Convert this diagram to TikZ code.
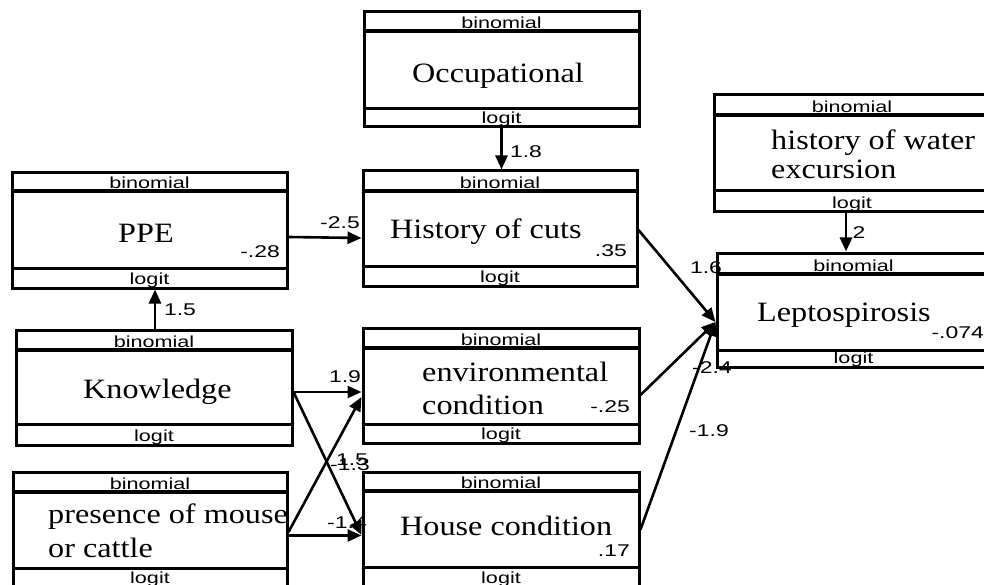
\documentclass[tikz,border=0pt]{standalone}
\usepackage{fontspec}
\newfontfamily\labf[FakeStretch=1.35]{Liberation Sans}
\newfontfamily\mainf[FakeStretch=1.15]{Liberation Serif}
\usetikzlibrary{arrows.meta,fit,calc}
\tikzset{
 x=1pt,y=1pt,
 boxframe/.style={draw, line width=3pt, inner sep=0pt},
 topsep/.style={line width=3.8pt},
 botsep/.style={line width=3pt},
 bandtxt/.style={font=\labf\fontsize{16}{18}\selectfont, inner sep=0pt, anchor=base},
 valtxt/.style={font=\labf\fontsize{17}{19}\selectfont, inner sep=0pt, anchor=base east},
 maintxt/.style={font=\mainf\fontsize{28}{33}\selectfont, inner sep=0pt, anchor=base west},
 edgelbl/.style={font=\labf\fontsize{17}{19}\selectfont, inner sep=0pt},
 conn/.style={line width=2.6pt, -{Triangle[length=14pt,width=12pt]}},
}
\newcommand\gbox[7]{%
 \node[boxframe, fit={(#2,-#3) (#4,-#5)}] (#1) {};
 \draw[topsep] (#2,-#6) -- (#4,-#6);
 \draw[botsep] (#2,-#7) -- (#4,-#7);
 \node[bandtxt] (#1-top) at ({(#2+#4)/2},{-#6+2.5}) {binomial};
 \node[bandtxt] (#1-bot) at ({(#2+#4)/2},{-#5+3.5}) {logit};
}
\begin{document}
\begin{tikzpicture}
\useasboundingbox (0,0) rectangle (984,-585);
\fill[white] (0,0) rectangle (984,-585);
\clip (0,0) rectangle (984,-585);

\gbox{occ}{364}{12}{639}{127}{31}{109}
\gbox{hist}{363}{171}{637}{286}{191}{266}
\gbox{ppe}{12}{173}{287}{288}{191}{268}
\gbox{know}{16}{330}{292}{445}{350}{424}
\gbox{pres}{13}{472}{287}{587}{492}{568}
\gbox{env}{363}{328}{639}{443}{348}{424}
\gbox{house}{363}{472}{639}{587}{491}{567}
\gbox{water}{714}{95}{990}{212}{115}{191}
\gbox{lep}{717}{253}{990}{367}{274}{350}

\node[maintxt] (occ-t) at (412,-83) {Occupational};
\node[maintxt] (hist-t) at (390,-238) {History of cuts};
\node[maintxt] (ppe-t) at (118,-242) {PPE};
\node[maintxt] (know-t) at (83,-398) {Knowledge};
\node[maintxt] (pres-t1) at (48,-523) {presence of mouse};
\node[maintxt] (pres-t2) at (48,-557) {or cattle};
\node[maintxt] (env-t1) at (422,-381) {environmental};
\node[maintxt] (env-t2) at (422,-414) {condition};
\node[maintxt] (house-t) at (400,-535) {House condition};
\node[maintxt] (water-t1) at (771,-150) {history of water};
\node[maintxt] (water-t2) at (771,-179) {excursion};
\node[maintxt] (lep-t) at (757,-321) {Leptospirosis};

\node[valtxt] (ppe-v) at (280,-258) {-.28};
\node[valtxt] (hist-v) at (627,-256) {.35};
\node[valtxt] (env-v) at (630,-412) {-.25};
\node[valtxt] (house-v) at (630,-556) {.17};
\node[valtxt] (lep-v) at (984,-338) {-.074};

\coordinate (lepin) at ([yshift=-12pt]lep.west);

\draw[conn] (occ.south) -- (occ.south |- hist.north);
\draw[conn] ([yshift=-6.5pt]ppe.east) -- ([yshift=-9.5pt]hist.west);
\draw[conn] ([xshift=1pt]know.north) -- ([xshift=1pt]know.north |- ppe.south);
\draw[conn] ([yshift=-1.5pt]hist.east) -- (lepin);
\draw[conn] ([xshift=-6pt]water.south) -- ([xshift=-6pt]water.south |- lep.north);
\draw[conn] ([yshift=-9.5pt]env.east) -- (lepin);
\draw[conn] (house.east) -- (lepin);
\draw[conn] ([yshift=-4.5pt]know.east) -- ([yshift=-6.5pt]env.west);
\draw[conn] ([yshift=-4.5pt]know.east) -- ([yshift=-5.5pt]house.west);
\draw[conn] ([yshift=-2.5pt]pres.east) -- ([yshift=-11.5pt]env.west);
\draw[conn] ([yshift=-6pt]pres.east) -- ([yshift=-6pt]house.west);

\node[edgelbl] (l1) at (526,-152) {1.8};
\node[edgelbl] (l2) at (340,-223) {-2.5};
\node[edgelbl] (l3) at (180,-310) {1.5};
\node[edgelbl] (l4) at (706,-268) {1.6};
\node[edgelbl] (l5) at (859,-233) {2};
\node[edgelbl] (l6) at (712,-368) {-2.4};
\node[edgelbl] (l7) at (709,-431) {-1.9};
\node[edgelbl] (l8) at (345,-377) {1.9};
\node[edgelbl] (l9) at (352,-460) {1.5};
\node[edgelbl] (l10) at (350,-465) {-1.3};
\node[edgelbl] (l11) at (347,-523) {-1.4};
\end{tikzpicture}
\end{document}
